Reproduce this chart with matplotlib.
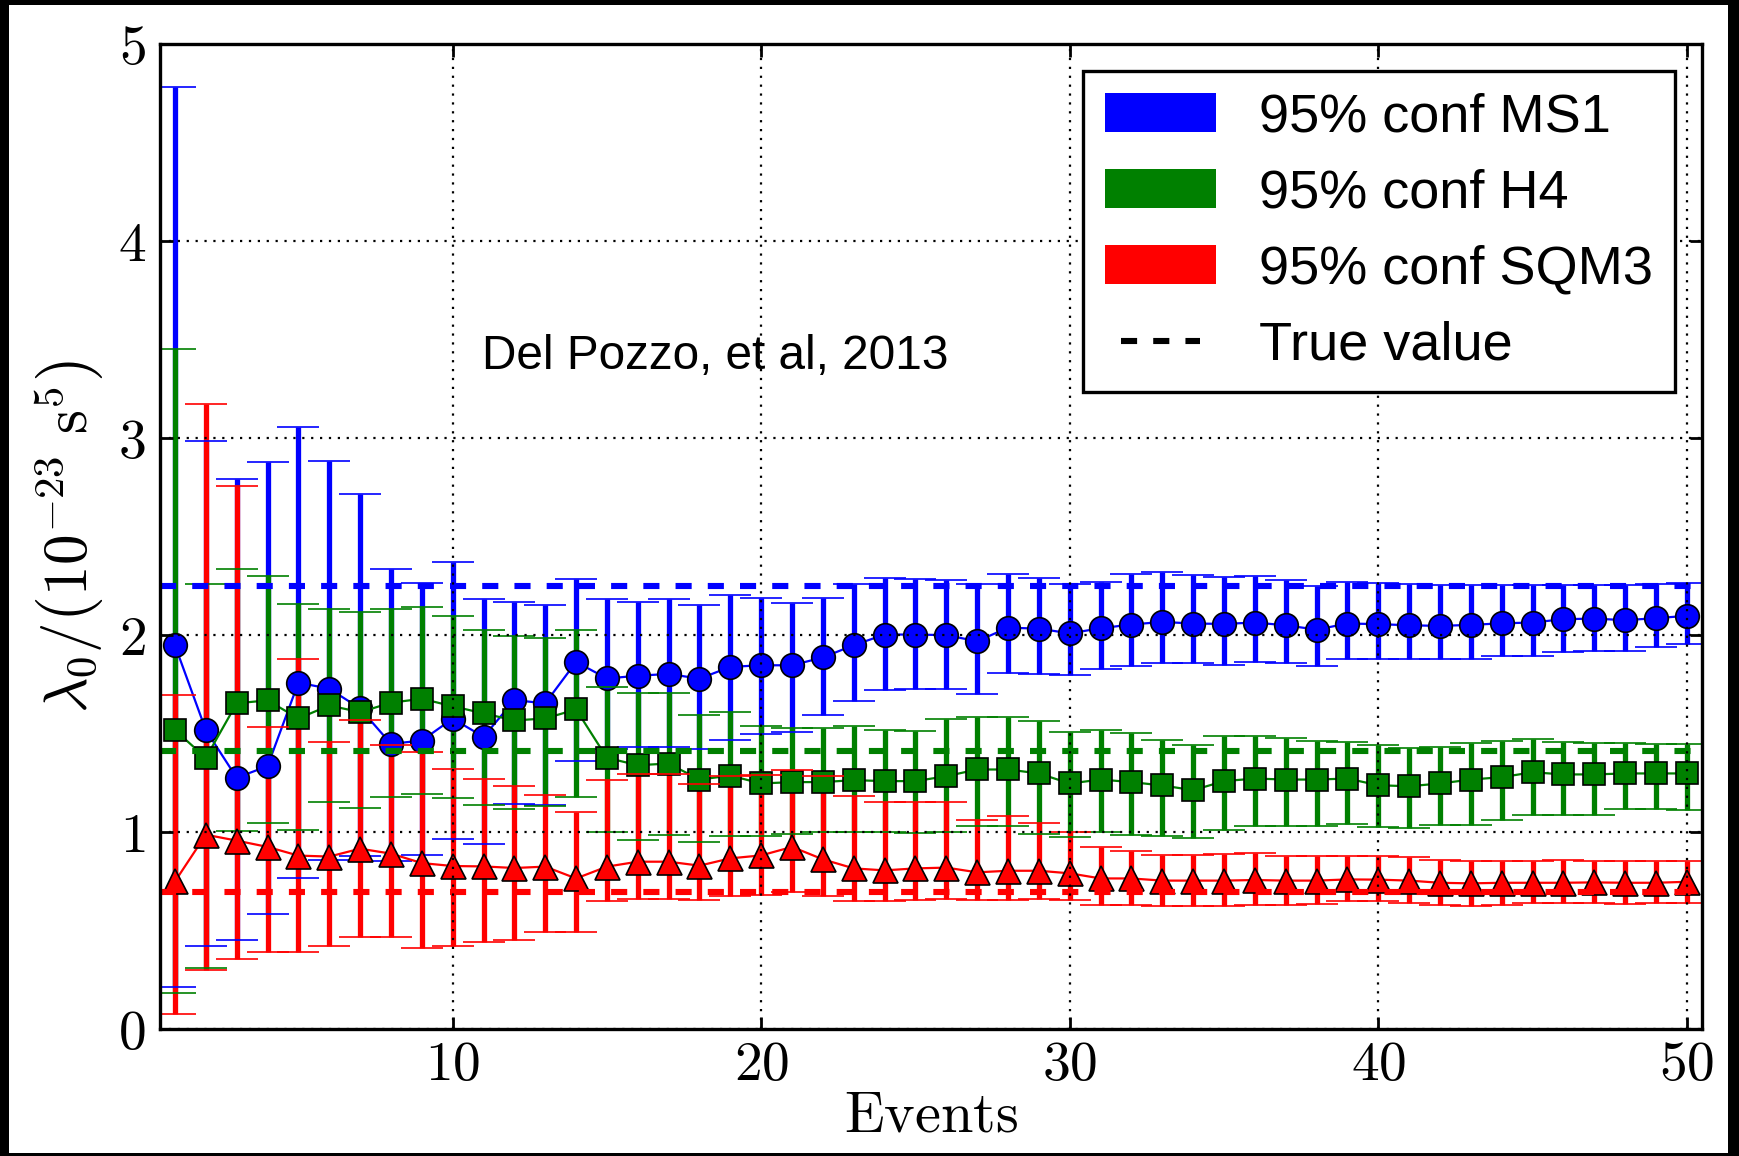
import numpy as np
import matplotlib
matplotlib.use("Agg")
import matplotlib.pyplot as plt
from matplotlib.patches import Patch, Rectangle
from matplotlib.lines import Line2D
from matplotlib.ticker import FuncFormatter

plt.rcParams["mathtext.fontset"] = "cm"
plt.rcParams["font.family"] = ["Liberation Sans", "DejaVu Sans"]

events = np.arange(1, 51)

# MS1: posterior median and 95% interval per number of events
ms1_mid = [1.947, 1.517, 1.275, 1.334, 1.758, 1.727, 1.627, 1.447, 1.464, 1.575,
           1.483, 1.669, 1.653, 1.863, 1.779, 1.793, 1.802, 1.778, 1.838, 1.846,
           1.846, 1.886, 1.948, 2.002, 2.002, 1.999, 1.968, 2.037, 2.032, 2.008,
           2.034, 2.053, 2.066, 2.058, 2.056, 2.063, 2.049, 2.027, 2.058, 2.055,
           2.049, 2.046, 2.051, 2.059, 2.063, 2.080, 2.083, 2.075, 2.085, 2.097]
ms1_lo = [0.215, 0.419, 0.451, 0.585, 0.764, 0.860, 0.880, 0.851, 0.881, 0.962,
          0.940, 1.140, 1.135, 1.360, 1.420, 1.430, 1.431, 1.419, 1.468, 1.495,
          1.508, 1.592, 1.666, 1.720, 1.727, 1.727, 1.698, 1.808, 1.803, 1.798,
          1.829, 1.842, 1.856, 1.856, 1.846, 1.863, 1.859, 1.842, 1.880, 1.880,
          1.880, 1.876, 1.880, 1.893, 1.893, 1.914, 1.919, 1.919, 1.941, 1.953]
ms1_hi = [4.780, 2.983, 2.790, 2.880, 3.058, 2.883, 2.714, 2.337, 2.266, 2.368,
          2.181, 2.168, 2.151, 2.285, 2.181, 2.168, 2.181, 2.152, 2.203, 2.187,
          2.164, 2.190, 2.258, 2.288, 2.283, 2.280, 2.258, 2.308, 2.290, 2.258,
          2.269, 2.308, 2.320, 2.303, 2.292, 2.297, 2.280, 2.249, 2.269, 2.262,
          2.258, 2.256, 2.256, 2.256, 2.254, 2.256, 2.256, 2.256, 2.259, 2.263]
ms1_true = 2.25

# H4
h4_mid = [1.517, 1.376, 1.653, 1.668, 1.576, 1.642, 1.608, 1.656, 1.676, 1.638,
          1.602, 1.566, 1.576, 1.622, 1.376, 1.339, 1.347, 1.266, 1.286, 1.246,
          1.253, 1.253, 1.263, 1.258, 1.258, 1.283, 1.317, 1.317, 1.297, 1.246,
          1.266, 1.253, 1.236, 1.212, 1.258, 1.271, 1.266, 1.266, 1.271, 1.237,
          1.232, 1.246, 1.266, 1.278, 1.303, 1.292, 1.292, 1.297, 1.297, 1.297]
h4_lo = [0.185, 0.308, 1.003, 1.046, 1.012, 1.153, 1.122, 1.176, 1.195, 1.172,
         1.139, 1.114, 1.134, 1.176, 1.000, 0.961, 0.986, 0.947, 0.978, 0.981,
         0.992, 0.998, 0.998, 0.998, 0.995, 0.998, 1.029, 1.029, 0.992, 0.975,
         0.998, 0.986, 0.981, 0.969, 1.012, 1.029, 1.029, 1.032, 1.042, 1.025,
         1.020, 1.037, 1.037, 1.059, 1.085, 1.088, 1.088, 1.114, 1.114, 1.110]
h4_hi = [3.449, 2.259, 2.337, 2.300, 2.159, 2.134, 2.114, 2.131, 2.142, 2.097,
         2.024, 1.995, 1.986, 2.024, 1.737, 1.707, 1.707, 1.593, 1.610, 1.537,
         1.529, 1.529, 1.537, 1.520, 1.512, 1.571, 1.583, 1.583, 1.563, 1.507,
         1.517, 1.500, 1.469, 1.441, 1.486, 1.488, 1.478, 1.461, 1.456, 1.439,
         1.427, 1.432, 1.453, 1.461, 1.473, 1.456, 1.453, 1.453, 1.447, 1.444]
h4_true = 1.41

# SQM3
sqm3_mid = [0.749, 0.986, 0.956, 0.924, 0.880, 0.875, 0.915, 0.890, 0.842, 0.827,
            0.825, 0.817, 0.824, 0.764, 0.824, 0.849, 0.849, 0.829, 0.866, 0.881,
            0.924, 0.861, 0.815, 0.805, 0.815, 0.819, 0.795, 0.803, 0.803, 0.790,
            0.764, 0.764, 0.753, 0.753, 0.753, 0.756, 0.753, 0.753, 0.759, 0.758,
            0.753, 0.742, 0.739, 0.742, 0.742, 0.742, 0.744, 0.742, 0.742, 0.747]
sqm3_lo = [0.076, 0.297, 0.356, 0.393, 0.390, 0.419, 0.469, 0.469, 0.410, 0.419,
           0.441, 0.453, 0.492, 0.492, 0.647, 0.659, 0.659, 0.656, 0.673, 0.678,
           0.693, 0.676, 0.651, 0.647, 0.656, 0.659, 0.653, 0.656, 0.659, 0.655,
           0.631, 0.631, 0.622, 0.625, 0.625, 0.631, 0.631, 0.636, 0.647, 0.647,
           0.639, 0.631, 0.625, 0.631, 0.639, 0.639, 0.639, 0.636, 0.639, 0.639]
sqm3_hi = [1.693, 3.173, 2.754, 1.532, 1.880, 1.456, 1.568, 1.439, 1.407, 1.322,
           1.271, 1.232, 1.186, 1.100, 1.266, 1.293, 1.292, 1.241, 1.286, 1.288,
           1.316, 1.286, 1.181, 1.151, 1.153, 1.151, 1.061, 1.082, 1.046, 1.000,
           0.924, 0.902, 0.885, 0.885, 0.890, 0.893, 0.876, 0.880, 0.880, 0.878,
           0.871, 0.859, 0.851, 0.851, 0.854, 0.859, 0.854, 0.851, 0.851, 0.854]
sqm3_true = 0.695

series = [
    ("95% conf MS1", ms1_mid, ms1_lo, ms1_hi, ms1_true, "#0000ff", "o", 8.5),
    ("95% conf H4", h4_mid, h4_lo, h4_hi, h4_true, "#008000", "s", 8.2),
    ("95% conf SQM3", sqm3_mid, sqm3_lo, sqm3_hi, sqm3_true, "#ff0000", "^", 9.0),
]

dash_lw = 2.2
dash_style = (0, (5.8 / dash_lw, 5.8 / dash_lw))

W, H = 1740, 1156
fig = plt.figure(figsize=(W / 200, H / 200), dpi=200, facecolor="black")
# white page inside a thin black frame
fig.add_artist(Rectangle((9 / W, 3 / H), (W - 9 - 12) / W, (H - 3 - 5) / H,
                         transform=fig.transFigure, facecolor="white",
                         edgecolor="none", zorder=-1))
ax = fig.add_axes([0.0917, 0.1099, 0.8866, 0.8521])

# bars first, then markers and caps, then the true-value lines
for i, (label, mid, lo, hi, true, color, marker, ms) in enumerate(series):
    mid = np.asarray(mid)
    lo = np.asarray(lo)
    hi = np.asarray(hi)
    eb = ax.errorbar(events, mid, yerr=[mid - lo, hi - mid], fmt="none",
                     ecolor=color, elinewidth=1.9, capsize=7.5, capthick=0.6,
                     zorder=1 + 0.1 * i)
    for cap in eb[1]:
        cap.set_zorder(2.05 + 0.1 * i)
    ax.plot(events, mid, color=color, lw=0.8, marker=marker, ms=ms,
            mfc=color, mec="black", mew=0.6, zorder=2 + 0.1 * i)

for i, (label, mid, lo, hi, true, color, marker, ms) in enumerate(series):
    ax.axhline(true, color=color, lw=dash_lw, ls=dash_style, zorder=2.35)

ax.set_xlim(0.5, 50.5)
ax.set_ylim(0, 5)
ax.set_xticks([10, 20, 30, 40, 50])
ax.set_yticks([0, 1, 2, 3, 4, 5])
fmt = FuncFormatter(lambda v, p: f"${v:.0f}$")
ax.xaxis.set_major_formatter(fmt)
ax.yaxis.set_major_formatter(fmt)
ax.tick_params(direction="in", top=True, right=True, length=4.5, width=1,
               labelsize=20)
ax.tick_params(axis="x", pad=4)
ax.tick_params(axis="y", pad=5)
ax.set_axisbelow(False)
ax.grid(True, color="black", linestyle=(0, (1, 3)), linewidth=0.8)
for sp in ax.spines.values():
    sp.set_linewidth(1.2)

ax.set_xlabel(r"$\mathrm{Events}$", fontsize=21, labelpad=-1)
# the empty subscript deepens the group so \left( \right) pick the taller parentheses
ax.set_ylabel(r"$\lambda_0/\left(10^{-23}\ \mathrm{s}^{5}_{\,}\right)$",
              fontsize=22, labelpad=4)

ax.text(10.95, 3.35, "Del Pozzo, et al, 2013", fontsize=17.2, va="baseline", ha="left")

handles = [Patch(facecolor=s[5], edgecolor="none") for s in series]
handles.append(Line2D([], [], color="black", lw=dash_lw, ls=dash_style))
labels = [s[0] for s in series] + ["True value"]
leg = ax.legend(handles, labels, loc="upper right", fontsize=19.5,
                handlelength=2.05, handleheight=0.72, handletextpad=0.8,
                labelspacing=0.48, borderpad=0.4, borderaxespad=0.5,
                numpoints=2, fancybox=False, framealpha=1, edgecolor="black")
leg.get_frame().set_linewidth(1.2)

fig.savefig("out.png", dpi=200, facecolor=fig.get_facecolor())
